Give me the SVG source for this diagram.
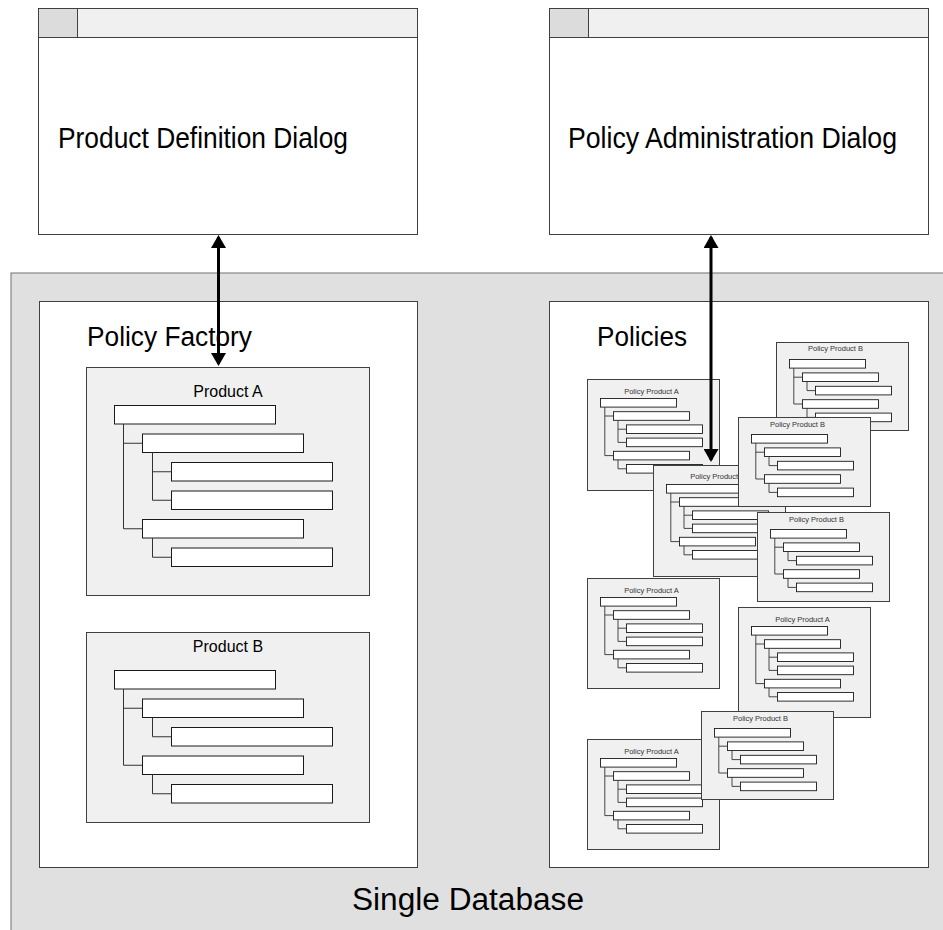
<svg xmlns="http://www.w3.org/2000/svg" xmlns:xlink="http://www.w3.org/1999/xlink" width="943" height="930" viewBox="0 0 943 930">
<style>
text{font-family:"Liberation Sans",Arial,sans-serif;fill:#000}
.dlg{fill:#fff;stroke:#404040;stroke-width:1}
.bar{fill:#f0f0f0;stroke:#404040;stroke-width:1}
.sq{fill:#dcdcdc;stroke:#404040;stroke-width:1}
.db{fill:#e0e0e0;stroke:#707070;stroke-width:1}
.pane{fill:#fff;stroke:#404040;stroke-width:1}
.prod{fill:#f0f0f0;stroke:#404040;stroke-width:1}
.row{fill:#fff;stroke:#1a1a1a;stroke-width:1}
.srow{fill:#fff;stroke:#1a1a1a;stroke-width:0.9}
.tl{fill:none;stroke:#333;stroke-width:1}
.stl{fill:none;stroke:#333;stroke-width:0.9}
.big{font-size:27px}
.dl{font-size:29px}
.mid{font-size:16px}
.sm{font-size:7.5px;fill:#333}
.conn{stroke:#000;stroke-width:3;fill:none}
</style>
<defs>
<marker id="ah" viewBox="0 0 13 15" refX="11" refY="7.5" markerWidth="13" markerHeight="15" markerUnits="userSpaceOnUse" orient="auto-start-reverse">
<path d="M0,0 L13,7.5 L0,15 Z" fill="#000"/>
</marker>
<g id="treeA">
<rect class="srow" x="13" y="19" width="76" height="8.6"/>
<rect class="srow" x="26" y="32.2" width="76" height="8.6"/>
<rect class="srow" x="39" y="45.4" width="76" height="8.6"/>
<rect class="srow" x="39" y="58.6" width="76" height="8.6"/>
<rect class="srow" x="26" y="71.8" width="76" height="8.6"/>
<rect class="srow" x="39" y="85" width="76" height="8.6"/>
<path class="stl" d="M17.3,27.6 V76.1 H26 M17.3,36.5 H26 M30.5,40.8 V62.9 H39 M30.5,49.7 H39 M30.5,80.4 V89.3 H39"/>
</g>
<g id="treeB">
<rect class="srow" x="13" y="17" width="76" height="8.6"/>
<rect class="srow" x="26" y="30.4" width="76" height="8.6"/>
<rect class="srow" x="39" y="43.8" width="76" height="8.6"/>
<rect class="srow" x="26" y="57.2" width="76" height="8.6"/>
<rect class="srow" x="39" y="70.6" width="76" height="8.6"/>
<path class="stl" d="M17.3,25.6 V61.5 H26 M17.3,34.7 H26 M30.5,39 V48.1 H39 M30.5,65.8 V74.9 H39"/>
</g>
</defs>

<g id="single-database">
<rect class="db" x="11" y="273" width="945" height="680"/>
<text x="468" y="910" text-anchor="middle" font-size="31" textLength="232" lengthAdjust="spacingAndGlyphs">Single Database</text>
</g>

<g id="product-definition-dialog">
<rect class="dlg" x="38.5" y="8.5" width="379" height="226"/>
<rect class="bar" x="38.5" y="8.5" width="379" height="29"/>
<rect class="sq" x="38.5" y="8.5" width="39" height="29"/>
<text class="dl" x="58" y="148" textLength="290" lengthAdjust="spacingAndGlyphs">Product Definition Dialog</text>
</g>

<g id="policy-administration-dialog">
<rect class="dlg" x="549.5" y="8.5" width="379" height="226"/>
<rect class="bar" x="549.5" y="8.5" width="379" height="29"/>
<rect class="sq" x="549.5" y="8.5" width="39" height="29"/>
<text class="dl" x="568" y="148" textLength="329" lengthAdjust="spacingAndGlyphs">Policy Administration Dialog</text>
</g>

<g id="policy-factory">
<rect class="pane" x="39.5" y="301.5" width="378" height="566"/>
<text class="big" x="87" y="346" textLength="165" lengthAdjust="spacingAndGlyphs">Policy Factory</text>
</g>

<g id="product-a">
<rect class="prod" x="86.5" y="367.5" width="283" height="228"/>
<text class="mid" x="228" y="397" text-anchor="middle">Product A</text>
<rect class="row" x="114.5" y="405.5" width="161" height="18.5"/>
<rect class="row" x="142.5" y="434" width="161" height="18.5"/>
<rect class="row" x="171.5" y="462.5" width="161" height="18.5"/>
<rect class="row" x="171.5" y="491" width="161" height="18.5"/>
<rect class="row" x="142.5" y="519.5" width="161" height="18.5"/>
<rect class="row" x="171.5" y="548" width="161" height="18.5"/>
<path class="tl" d="M123.5,424 V528.75 H142.5 M123.5,443.25 H142.5 M152.5,452.5 V500.25 H171.5 M152.5,471.75 H171.5 M152.5,538 V557.25 H171.5"/>
</g>

<g id="product-b">
<rect class="prod" x="86.5" y="632.5" width="283" height="190"/>
<text class="mid" x="228" y="652" text-anchor="middle">Product B</text>
<rect class="row" x="114.5" y="670.5" width="161" height="18.5"/>
<rect class="row" x="142.5" y="699" width="161" height="18.5"/>
<rect class="row" x="171.5" y="727.5" width="161" height="18.5"/>
<rect class="row" x="142.5" y="756" width="161" height="18.5"/>
<rect class="row" x="171.5" y="784.5" width="161" height="18.5"/>
<path class="tl" d="M123.5,689 V765.25 H142.5 M123.5,708.25 H142.5 M152.5,717.5 V736.75 H171.5 M152.5,774.5 V793.75 H171.5"/>
</g>

<g id="policies">
<rect class="pane" x="549.5" y="301.5" width="379" height="566"/>
<text class="big" x="597" y="346" textLength="90" lengthAdjust="spacingAndGlyphs">Policies</text>
</g>

<g id="policy-b-1" transform="translate(776.5,342.5)">
<rect class="prod" width="132" height="88"/>
<text class="sm" x="59" y="8.7" text-anchor="middle">Policy Product B</text>
<use xlink:href="#treeB"/>
</g>
<g id="policy-a-1" transform="translate(587.5,379.5)">
<rect class="prod" width="132" height="111"/>
<text class="sm" x="64" y="14" text-anchor="middle">Policy Product A</text>
<use xlink:href="#treeA"/>
</g>
<g id="policy-a-2" transform="translate(653.5,465.5)">
<rect class="prod" width="132" height="111"/>
<text class="sm" x="64" y="13" text-anchor="middle">Policy Product A</text>
<use xlink:href="#treeA"/>
</g>
<g id="policy-b-2" transform="translate(738.5,417.5)">
<rect class="prod" width="132" height="89"/>
<text class="sm" x="59" y="9.5" text-anchor="middle">Policy Product B</text>
<use xlink:href="#treeB"/>
</g>
<g id="policy-b-3" transform="translate(757.5,512.5)">
<rect class="prod" width="132" height="89"/>
<text class="sm" x="59" y="9.5" text-anchor="middle">Policy Product B</text>
<use xlink:href="#treeB"/>
</g>
<g id="policy-a-3" transform="translate(587.5,578.5)">
<rect class="prod" width="132" height="110"/>
<text class="sm" x="64" y="14" text-anchor="middle">Policy Product A</text>
<use xlink:href="#treeA"/>
</g>
<g id="policy-a-4" transform="translate(738.5,607.5)">
<rect class="prod" width="132" height="110"/>
<text class="sm" x="64" y="14" text-anchor="middle">Policy Product A</text>
<use xlink:href="#treeA"/>
</g>
<g id="policy-a-5" transform="translate(587.5,739.5)">
<rect class="prod" width="132" height="110"/>
<text class="sm" x="64" y="14" text-anchor="middle">Policy Product A</text>
<use xlink:href="#treeA"/>
</g>
<g id="policy-b-4" transform="translate(701.5,711.5)">
<rect class="prod" width="132" height="88"/>
<text class="sm" x="59" y="9" text-anchor="middle">Policy Product B</text>
<use xlink:href="#treeB"/>
</g>

<g id="connectors">
<line class="conn" x1="218.5" y1="237" x2="218.5" y2="364" marker-start="url(#ah)" marker-end="url(#ah)"/>
<line class="conn" x1="711" y1="237" x2="711" y2="460" marker-start="url(#ah)" marker-end="url(#ah)"/>
</g>
</svg>
